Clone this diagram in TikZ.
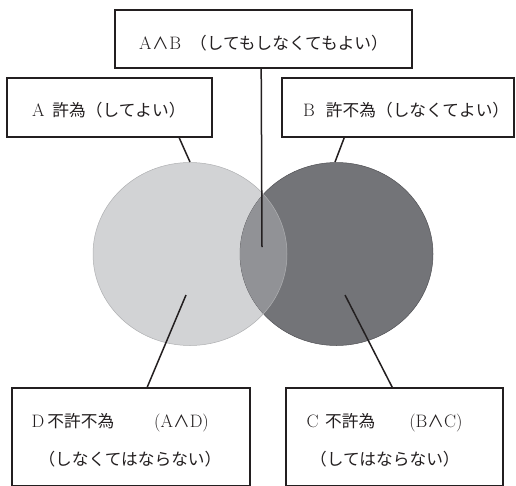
\documentclass[tikz,border=0pt]{standalone}
\usepackage{fontspec}
\newfontfamily\jp{Noto Sans CJK JP}
\usetikzlibrary{calc}
\definecolor{lightc}{RGB}{210,211,213}
\definecolor{darkc}{RGB}{115,116,120}
\definecolor{midc}{RGB}{145,146,150}
\definecolor{lightedge}{RGB}{175,176,178}
\definecolor{darkedge}{RGB}{80,80,84}
\definecolor{inkc}{RGB}{35,31,32}
\newcommand{\lt}[1]{{\rmfamily\fontsize{18}{20}\selectfont #1}}
\begin{document}
\begin{tikzpicture}[x=1pt,y=-1pt,
  box/.style={draw=inkc, line width=1.6pt, fill=white, inner sep=0pt},
  lbl/.style={font=\jp\fontsize{16.7}{20}\selectfont, text=inkc, anchor=west, inner sep=0pt},
  link/.style={draw=inkc, line width=1.5pt}]
\useasboundingbox (0,0) rectangle (516,485);
% circles
\fill[lightc] (190,254) ellipse [x radius=97pt, y radius=91.5pt];
\draw[darkedge, fill=darkc, line width=0.5pt] (336.5,254) ellipse [x radius=96.5pt, y radius=91.5pt];
\begin{scope}
  \clip (190,254) ellipse [x radius=97pt, y radius=91.5pt];
  \fill[midc] (336.5,254) ellipse [x radius=96.5pt, y radius=91.5pt];
\end{scope}
\draw[lightedge, line width=0.5pt] (190,254) ellipse [x radius=97pt, y radius=91.5pt];
% free ends
\coordinate (pAB) at (262,247);
\coordinate (pA) at (190,162);
\coordinate (pB) at (335,162);
\coordinate (pD) at (186,295);
\coordinate (pC) at (345,295);
% boxes
\node[box, minimum width=297pt, minimum height=58pt] (topbox) at (263.5,39) {};
\node[box, minimum width=205pt, minimum height=59pt] (boxA) at (109.5,107.5) {};
\node[box, minimum width=232pt, minimum height=59pt] (boxB) at (398,107.5) {};
\node[box, minimum width=238pt, minimum height=98pt] (boxD) at (131,437) {};
\node[box, minimum width=217pt, minimum height=98pt] (boxC) at (394.5,437) {};
% texts
\node[lbl] (tAB) at (139,43) {\lt{A}\hspace{0.5pt}∧\hspace{0.5pt}\lt{B}\hspace{9pt}（してもしなくてもよい）};
\node[lbl] (tA) at (32,110) {\lt{A}\hspace{7.8pt}許為（してよい）};
\node[lbl] (tB) at (303,110) {\lt{B}\hspace{11pt}許不為（しなくてよい）};
\node[lbl] (tD1) at (31.5,423) {\lt{D}\hspace{3pt}不許不為\hspace{40pt}\lt{(A}∧\lt{D)}};
\node[lbl] (tD2) at (38.3,459) {（しなくてはならない）};
\node[lbl] (tC1) at (306.5,423) {\lt{C}\hspace{6.5pt}不許為\hspace{34pt}\lt{(B}∧\lt{C)}};
\node[lbl] (tC2) at (310,459) {（してはならない）};
% connectors
\draw[link] ($(topbox.south west)+(147,0)$) -- (pAB);
\draw[link] ($(boxA.south west)+(173,0)$) -- (pA);
\draw[link] ($(boxB.south west)+(63,0)$) -- (pB);
\draw[link] ($(boxD.north west)+(136,0)$) -- (pD);
\draw[link] ($(boxC.north west)+(107,0)$) -- (pC);
\end{tikzpicture}
\end{document}
